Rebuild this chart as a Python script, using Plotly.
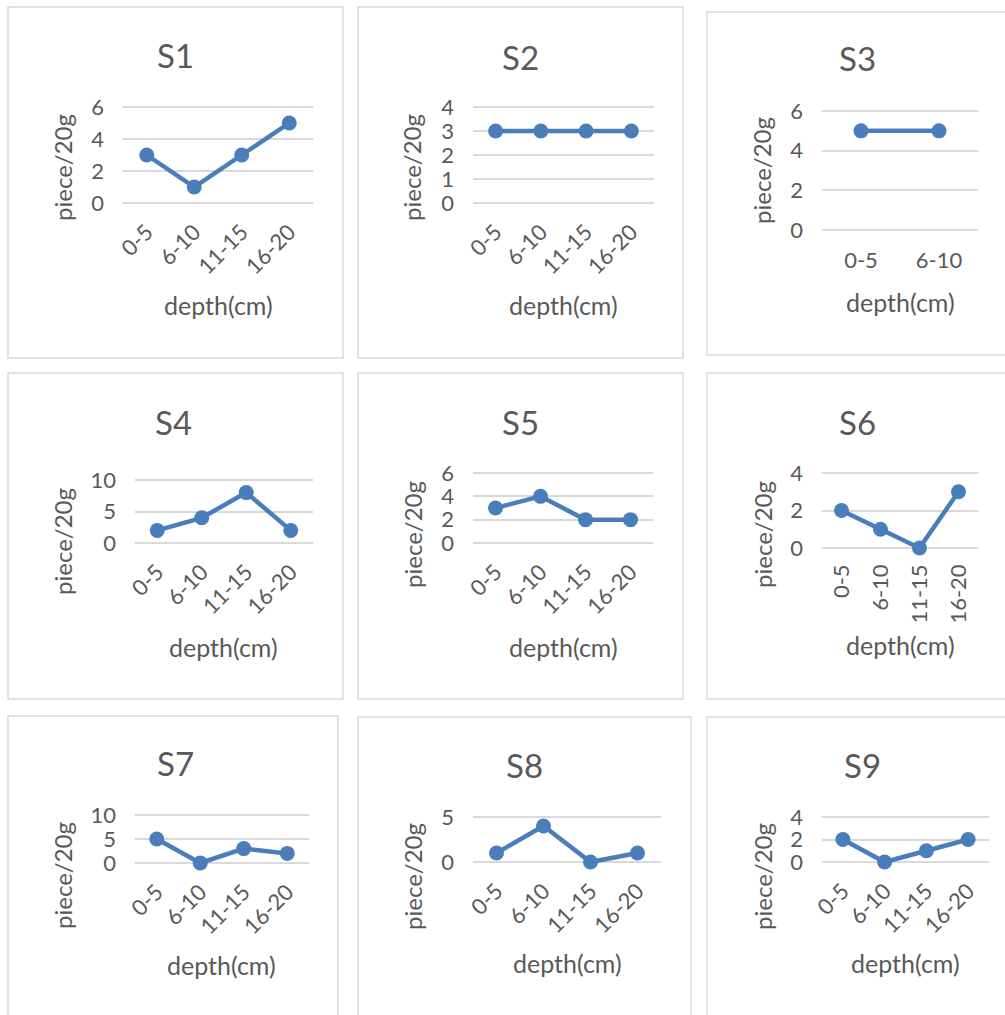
import plotly.graph_objects as go

W, H = 1005, 1015

# ---------------- data ----------------
cats4 = ["0-5", "6-10", "11-15", "16-20"]
cats2 = ["0-5", "6-10"]
names = ["S1", "S2", "S3", "S4", "S5", "S6", "S7", "S8", "S9"]
s1 = [3, 1, 3, 5]
s2 = [3, 3, 3, 3]
s3 = [5, 5]
s4 = [2, 4, 8, 2]
s5 = [3, 4, 2, 2]
s6 = [2, 1, 0, 3]
s7 = [5, 0, 3, 2]
s8 = [1, 4, 0, 1]
s9 = [2, 0, 1, 2]
series = [s1, s2, s3, s4, s5, s6, s7, s8, s9]
categories = [cats4, cats4, cats2, cats4, cats4, cats4, cats4, cats4, cats4]
y_max = [6, 4, 6, 10, 6, 4, 10, 5, 4]
y_step = [2, 1, 2, 5, 2, 2, 5, 5, 2]
x_title = "depth(cm)"
y_title = "piece/20g"

# ---------------- layout (pixels) ----------------
boxes = [(8, 7, 343, 358), (358, 7, 683, 358), (707, 12, 1012, 355),
         (8, 373, 343, 699), (358, 373, 683, 699), (707, 373, 1012, 699),
         (8, 716, 338, 1020), (358, 717, 691, 1020), (707, 717, 1012, 1020)]
plots = [(123, 313, 107, 203), (473, 654, 107, 203), (822, 978, 111, 230),
         (135, 313, 480, 543), (473, 653, 473, 543), (822, 978, 473, 548),
         (135, 309, 815, 863), (473, 661, 817, 862), (822, 989, 817, 862)]
title_pos = [(175, 55), (520, 57), (857, 58), (173, 422), (520, 422), (857, 422),
             (175, 763), (524, 765), (862, 765)]
ytitle_pos = [(62, 168), (411, 168), (762, 171), (62, 542), (412, 535), (762, 535),
              (62, 876), (412, 877), (762, 877)]
xtitle_pos = [(218, 305), (563, 305), (900, 302), (223, 647), (563, 647), (900, 645),
              (221, 965), (567, 963), (905, 963)]
tick_angles = [-45, -45, 0, -45, -45, -90, -45, -45, -45]

FONT = "Lato, 'Open Sans', sans-serif"
TXT = "#595959"
GRID = "#d9d9d9"
LINE = "#4a7ebb"
PAD = 3  # px so the edge gridlines are kept


def px(x):
    return x / W


def py(y):
    return 1 - y / H


fig = go.Figure()
shapes = []
annotations = []

for i in range(9):
    ax = "" if i == 0 else str(i + 1)
    fig.add_trace(go.Scatter(
        x=categories[i], y=series[i], mode="lines+markers",
        line=dict(color=LINE, width=4.5),
        marker=dict(color=LINE, size=15),
        cliponaxis=False, showlegend=False,
        xaxis="x" + ax, yaxis="y" + ax,
    ))
    xl, xr, yt, yb = plots[i]
    n = len(categories[i])
    upp = y_max[i] / (yb - yt)
    fig.update_layout({
        "xaxis" + ax: dict(
            domain=[px(xl), px(xr)], anchor="y" + ax, type="category",
            range=[-0.5, n - 0.5], showgrid=False, zeroline=False,
            showline=False, ticks="", tickangle=tick_angles[i],
            tickfont=dict(family=FONT, size=22, color=TXT),
            ticklabelstandoff=8 if tick_angles[i] != 0 else 12,
            automargin=False, fixedrange=True,
        ),
        "yaxis" + ax: dict(
            domain=[py(yb + PAD), py(yt - PAD)], anchor="x" + ax,
            range=[-PAD * upp, y_max[i] + PAD * upp], dtick=y_step[i], tick0=0,
            showgrid=True, gridcolor=GRID, gridwidth=1.5,
            zeroline=False, showline=False, ticks="",
            tickfont=dict(family=FONT, size=22, color=TXT),
            ticklabelstandoff=18, automargin=False, fixedrange=True,
        ),
    })
    bx0, by0, bx1, by1 = boxes[i]
    shapes.append(dict(type="rect", xref="paper", yref="paper",
                       x0=px(bx0), x1=px(bx1), y0=py(by1), y1=py(by0),
                       line=dict(color=GRID, width=1.5), fillcolor="rgba(0,0,0,0)",
                       layer="below"))
    tx, ty = title_pos[i]
    annotations.append(dict(text=names[i], x=px(tx), y=py(ty), xref="paper", yref="paper",
                            xanchor="center", yanchor="middle", showarrow=False,
                            font=dict(family=FONT, size=33, color=TXT)))
    yx, yy = ytitle_pos[i]
    annotations.append(dict(text=y_title, x=px(yx), y=py(yy), xref="paper", yref="paper",
                            xanchor="center", yanchor="middle", showarrow=False,
                            textangle=-90,
                            font=dict(family=FONT, size=24, color=TXT)))
    xx, xy = xtitle_pos[i]
    annotations.append(dict(text=x_title, x=px(xx), y=py(xy), xref="paper", yref="paper",
                            xanchor="center", yanchor="middle", showarrow=False,
                            font=dict(family=FONT, size=25, color=TXT)))

fig.update_layout(
    width=W, height=H, margin=dict(l=0, r=0, t=0, b=0, pad=0, autoexpand=False),
    paper_bgcolor="white", plot_bgcolor="white",
    shapes=shapes, annotations=annotations,
)

fig.write_html("out.html", config={"displayModeBar": False},
               post_script="document.body.style.margin='0';document.body.style.overflow='hidden';")
